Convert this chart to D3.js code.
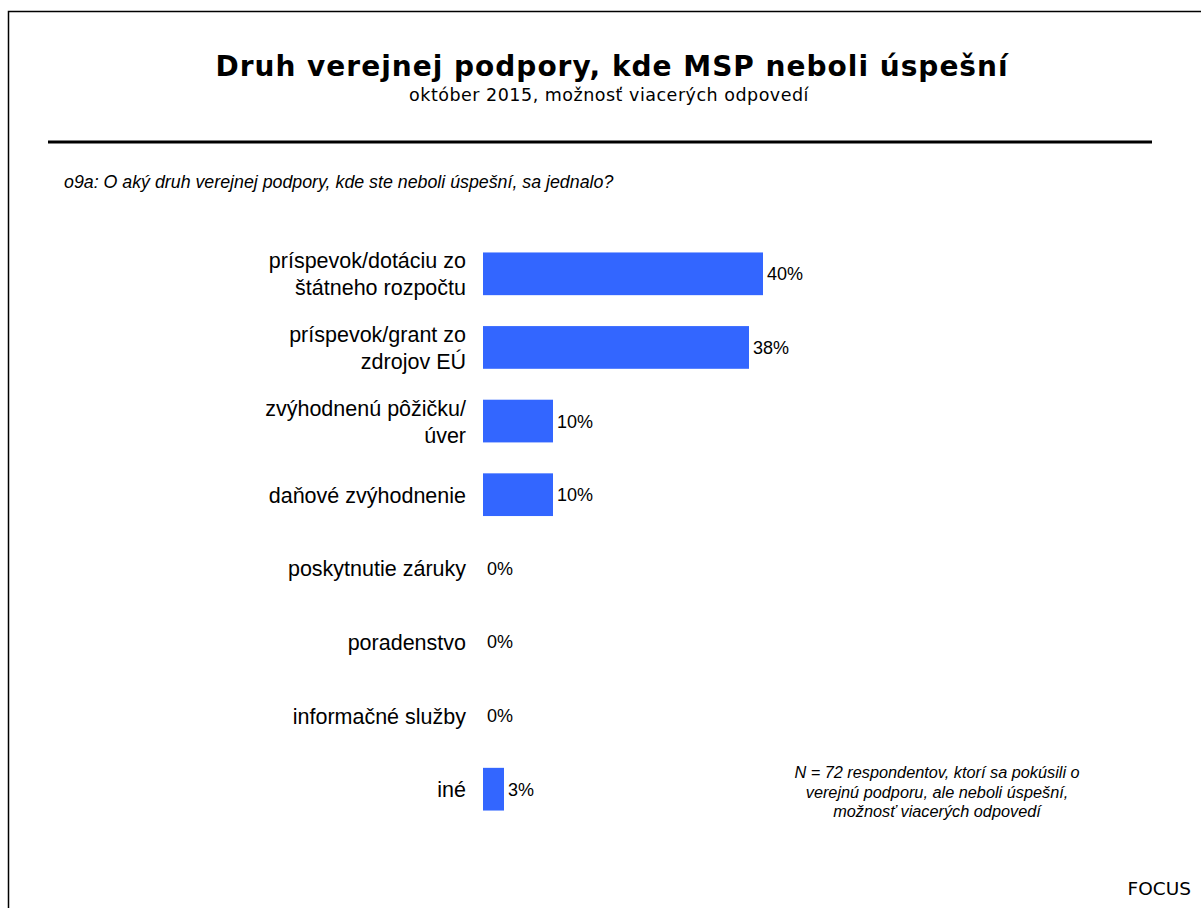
<!DOCTYPE html>
<html><head><meta charset="utf-8">
<script src="https://cdn.jsdelivr.net/npm/d3@7"></script>
<style>body{margin:0;background:#fff}svg{display:block}</style>
</head><body>
<script>
const categories = [
  ["príspevok/dotáciu zo", "štátneho rozpočtu"],
  ["príspevok/grant zo", "zdrojov EÚ"],
  ["zvýhodnenú pôžičku/", "úver"],
  ["daňové zvýhodnenie"],
  ["poskytnutie záruky"],
  ["poradenstvo"],
  ["informačné služby"],
  ["iné"]
];
const values = [40, 38, 10, 10, 0, 0, 0, 3];
const titleText = "Druh verejnej podpory, kde MSP neboli úspešní";
const subtitleText = "október 2015, možnosť viacerých odpovedí";
const questionText = "o9a: O aký druh verejnej podpory, kde ste neboli úspešní, sa jednalo?";
const noteLines = ["N = 72 respondentov, ktorí sa pokúsili o", "verejnú podporu, ale neboli úspešní,", "možnosť viacerých odpovedí"];
const sourceText = "FOCUS";

const W = 1201, H = 908;
const svg = d3.select("body").append("svg").attr("width", W).attr("height", H);

// frame
svg.append("rect").attr("x", 8.5).attr("y", 11.5).attr("width", W + 20).attr("height", H + 20)
  .attr("fill", "none").attr("stroke", "#000").attr("stroke-width", 1.5);

svg.append("text").attr("x", 612).attr("y", 76).attr("text-anchor", "middle")
  .attr("font-family", "DejaVu Sans").attr("font-weight", "bold").attr("font-size", 28)
  .attr("letter-spacing", 1).attr("fill", "#000").text(titleText);
svg.append("text").attr("x", 609).attr("y", 101).attr("text-anchor", "middle")
  .attr("font-family", "DejaVu Sans").attr("font-size", 17.5).attr("letter-spacing", 0.5)
  .attr("fill", "#000").text(subtitleText);

svg.append("line").attr("x1", 48).attr("x2", 1152).attr("y1", 142).attr("y2", 142)
  .attr("stroke", "#000").attr("stroke-width", 3);

svg.append("text").attr("x", 64).attr("y", 188)
  .attr("font-family", "Liberation Sans").attr("font-style", "italic").attr("font-size", 17.8)
  .attr("fill", "#000").text(questionText);

const x = d3.scaleLinear().domain([0, 40]).range([483, 763]);
const y = d3.scaleBand().domain(d3.range(values.length)).range([237, 826]).paddingInner(0.42).paddingOuter(0.21);

const g = svg.append("g");
g.selectAll("rect.bar").data(values).join("rect").attr("class", "bar")
  .attr("x", x(0)).attr("y", (d, i) => y(i))
  .attr("width", d => x(d) - x(0)).attr("height", y.bandwidth())
  .attr("fill", "#3366FF");

g.selectAll("text.val").data(values).join("text").attr("class", "val")
  .attr("x", d => x(d) + 4).attr("y", (d, i) => y(i) + y.bandwidth() / 2 + 6.5)
  .attr("font-family", "Liberation Sans").attr("font-size", 18)
  .attr("fill", "#000").text(d => d + "%");

const lh = 27;
categories.forEach((lines, i) => {
  const cy = y(i) + y.bandwidth() / 2;
  const t = g.append("text").attr("text-anchor", "end")
    .attr("font-family", "Liberation Sans").attr("font-size", 21.5).attr("fill", "#000");
  const y0 = cy + 8 - (lines.length - 1) * lh / 2;
  lines.forEach((l, k) => {
    t.append("tspan").attr("x", 466).attr("y", y0 + k * lh).text(l);
  });
});

const nt = svg.append("text").attr("text-anchor", "middle")
  .attr("font-family", "Liberation Sans").attr("font-style", "italic").attr("font-size", 16.3).attr("fill", "#000");
noteLines.forEach((l, k) => nt.append("tspan").attr("x", 937).attr("y", 778 + k * 19.5).text(l));

svg.append("text").attr("x", 1191).attr("y", 895).attr("text-anchor", "end")
  .attr("font-family", "DejaVu Sans").attr("font-size", 18.5).attr("fill", "#000").text(sourceText);
</script>
</body></html>
